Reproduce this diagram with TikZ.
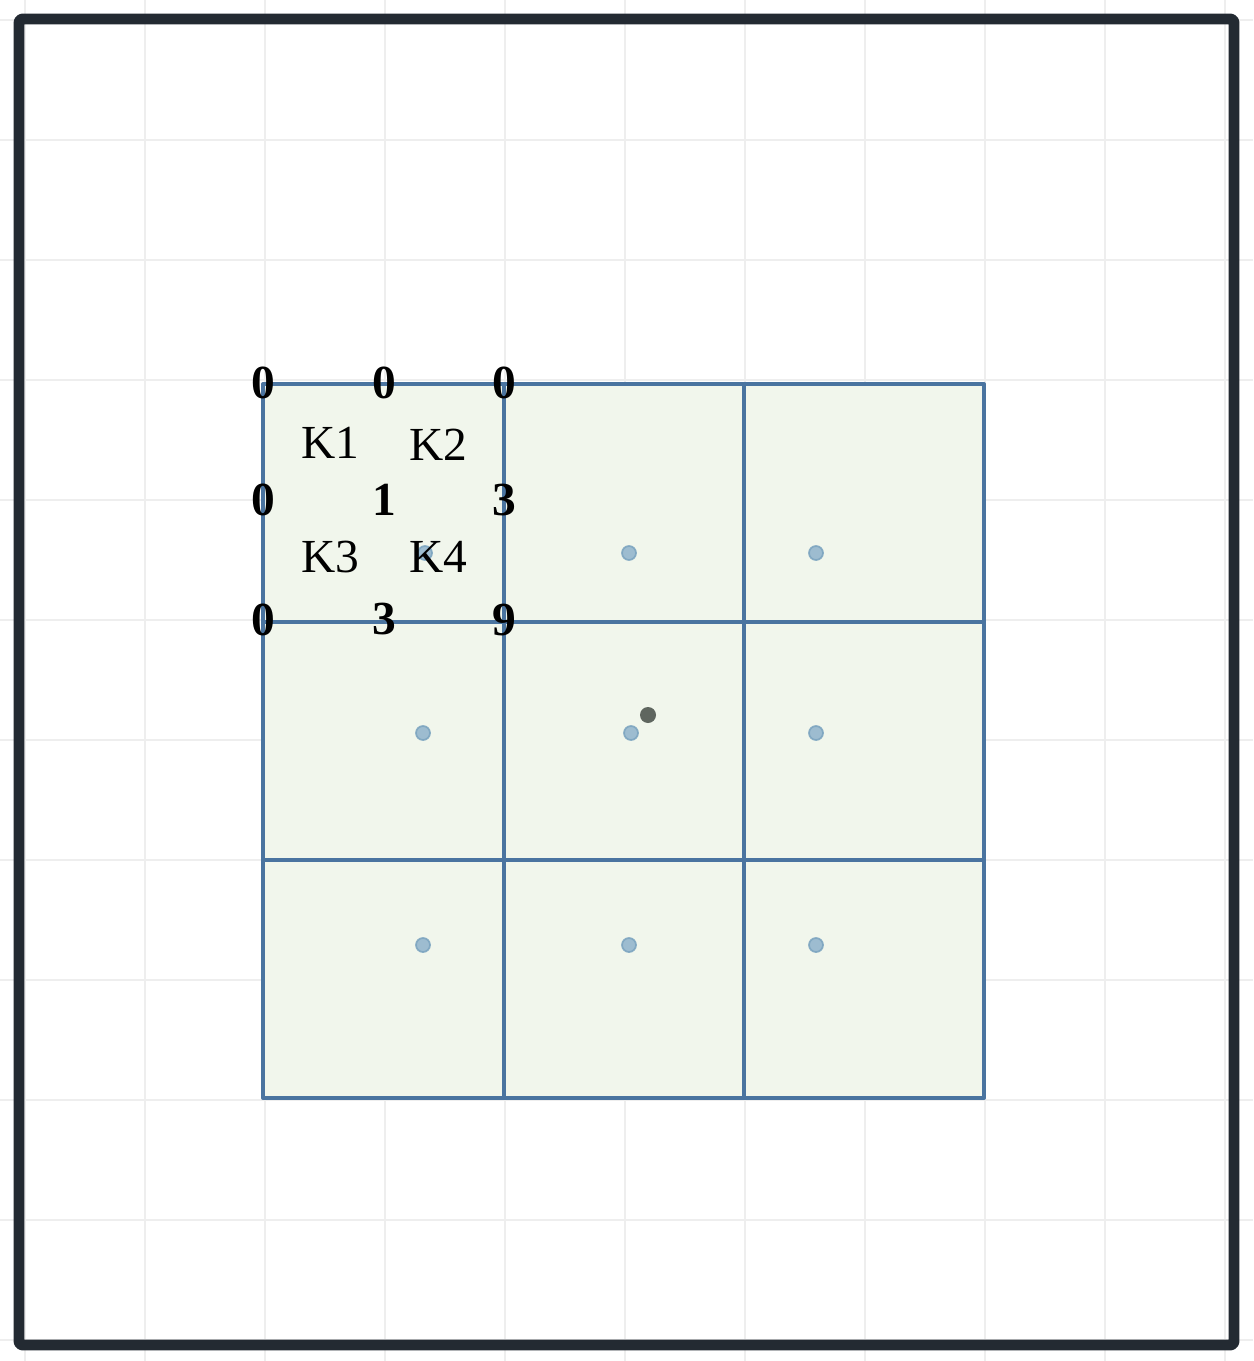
\documentclass[tikz,border=0pt]{standalone}
\usepackage{fontspec}
\setmainfont{Liberation Serif}
\usepackage{tikz}
\usetikzlibrary{backgrounds}

\definecolor{framecol}{HTML}{232A32}
\definecolor{gridcol}{HTML}{EEEEEE}
\definecolor{cellcol}{HTML}{4A74A0}
\definecolor{cellfill}{HTML}{F1F6EC}
\definecolor{dotcol}{HTML}{8FB3CC}
\definecolor{dotring}{HTML}{7AA3BF}
\definecolor{markcol}{HTML}{5F665F}

\tikzset{
  num/.style={font=\fontsize{27}{30}\selectfont\bfseries, inner sep=0pt},
  klab/.style={font=\fontsize{27}{30}\selectfont, inner sep=0pt},
  cdot/.style={fill=dotcol, draw=dotring, line width=1pt, opacity=0.85}
}

\begin{document}
\begin{tikzpicture}[x=0.02cm,y=-0.02cm,join=round] % 3x3 cells with corner values
        \useasboundingbox (0,0) rectangle (1253,1361);
        \fill[white] (0,0) rectangle (1253,1361);
        % light background grid
        \foreach \gx in {25,145,...,1225}
                \draw[gridcol,line width=1.6pt] (\gx,0)--(\gx,1361);
        \foreach \gy in {20,140,...,1340}
                \draw[gridcol,line width=1.6pt] (0,\gy)--(1253,\gy);
        % cells
        \filldraw[fill=cellfill,draw=cellcol,line width=2.3pt](263,384)rectangle(984,1098);
        \draw[cellcol,line width=2.3pt](504,384)--(504,1098);
        \draw[cellcol,line width=2.3pt](744,384)--(744,1098);
        \draw[cellcol,line width=2.3pt](263,622)--(984,622);
        \draw[cellcol,line width=2.3pt](263,860)--(984,860);
        % cell centres
        \filldraw[cdot](425,553) circle (7);
        \filldraw[cdot](629,553) circle (7);
        \filldraw[cdot](816,553) circle (7);
        \filldraw[cdot](423,733) circle (7);
        \filldraw[cdot](631,733) circle (7);
        \filldraw[cdot](816,733) circle (7);
        \filldraw[cdot](423,945) circle (7);
        \filldraw[cdot](629,945) circle (7);
        \filldraw[cdot](816,945) circle (7);
        \fill[markcol](648,715) circle (8);
        % labels
        \node[klab] (k1) at (330,443) {K1};
        \node[klab] (k2) at (438,445) {K2};
        \node[klab] (k3) at (330,557) {K3};
        \node[klab] (k4) at (438,557) {K4};
        \node[num] (n00) at (263,383) {0};
        \node[num] (n01) at (384,383) {0};
        \node[num] (n02) at (504,383) {0};
        \node[num] (n10) at (263,500) {0};
        \node[num] (n11) at (384,500) {1};
        \node[num] (n12) at (504,500) {3};
        \node[num] (n20) at (263,620) {0};
        \node[num] (n21) at (384,619) {3};
        \node[num] (n22) at (504,620) {9};
        % frame
        \draw[framecol,line width=6.2pt,rounded corners=2pt](19,19) rectangle (1234,1345);
\end{tikzpicture}
\end{document}
